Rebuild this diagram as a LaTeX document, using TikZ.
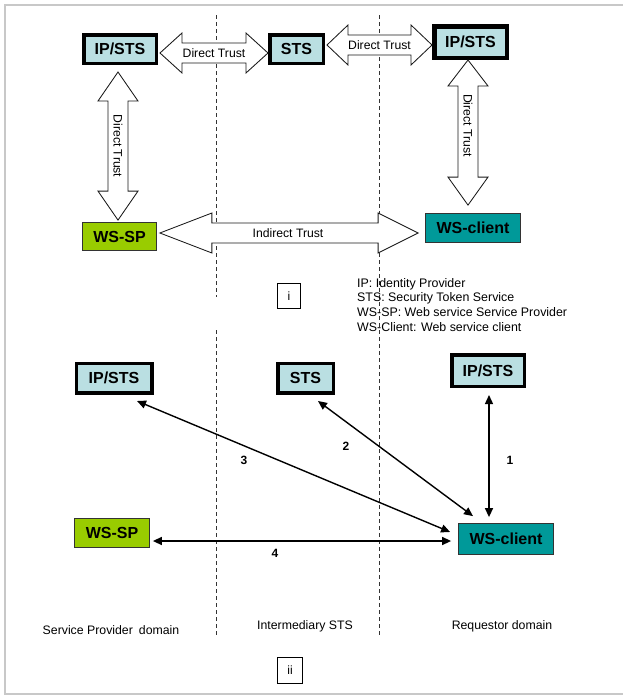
\documentclass[tikz,border=0pt]{standalone}
\usepackage{fontspec}
\setmainfont{Liberation Sans}
\usetikzlibrary{arrows.meta,calc}
\definecolor{stsblue}{RGB}{186,223,226}
\definecolor{spgreen}{RGB}{153,204,0}
\definecolor{clientteal}{RGB}{0,153,153}
\definecolor{framegray}{RGB}{200,200,200}

% horizontal double block arrow: #1 left tip, #2 right tip (x only), #3/#4 head lengths
\newcommand\hblockarrow[4]{%
  \draw[blockarrow] let \p1=(#1), \p2=(#2) in
    (\x1,\y1) -- (\x1+#3,\y1+20pt) -- (\x1+#3,\y1+10pt) -- (\x2-#4,\y1+10pt)
    -- (\x2-#4,\y1+20pt) -- (\x2,\y1) -- (\x2-#4,\y1-20pt) -- (\x2-#4,\y1-10pt)
    -- (\x1+#3,\y1-10pt) -- (\x1+#3,\y1-20pt) -- cycle;}
% vertical double block arrow: #1 top tip, #2 bottom tip (y only), #3/#4 head lengths
\newcommand\vblockarrow[4]{%
  \draw[blockarrow] let \p1=(#1), \p2=(#2) in
    (\x1,\y1) -- (\x1+20pt,\y1-#3) -- (\x1+10pt,\y1-#3) -- (\x1+10pt,\y2+#4)
    -- (\x1+20pt,\y2+#4) -- (\x1,\y2) -- (\x1-20pt,\y2+#4) -- (\x1-10pt,\y2+#4)
    -- (\x1-10pt,\y1-#3) -- (\x1-20pt,\y1-#3) -- cycle;}

\tikzset{
  stsbox/.style={draw=black, fill=stsblue, line width=3.5pt, inner sep=0pt,
    font=\fontsize{16}{19}\selectfont\bfseries},
  spbox/.style={draw=black!80, fill=spgreen, line width=0.8pt, inner sep=0pt,
    font=\fontsize{16}{19}\selectfont\bfseries},
  clientbox/.style={draw=black!80, fill=clientteal, line width=0.8pt, inner sep=0pt,
    font=\fontsize{16}{19}\selectfont\bfseries},
  blockarrow/.style={draw=black!90, fill=white, line width=0.85pt, line join=miter},
  arrowtext/.style={font=\fontsize{12.2}{14}\selectfont, inner sep=0pt},
  plaintext/.style={font=\fontsize{12.3}{14}\selectfont, inner sep=0pt},
  numlabel/.style={font=\fontsize{12}{14}\selectfont\bfseries, inner sep=0pt},
  tagbox/.style={draw=black, line width=0.7pt, font=\fontsize{12}{14}\selectfont,
    minimum width=23pt, minimum height=25pt, inner sep=0pt},
  domainline/.style={draw=black!80, line width=0.9pt, dash pattern=on 4pt off 3pt},
  link/.style={line width=1.4pt, {Triangle[length=9pt,width=8pt]}-{Triangle[length=9pt,width=8pt]}}
}

\begin{document}
\begin{tikzpicture}[x=1pt, y=-1pt]
\useasboundingbox (0,0) rectangle (623,696);
\fill[white] (0,0) rectangle (623,696);
\draw[framegray, line width=2.5pt] (5,5) rectangle (630,694);

% domain separators
\draw[domainline] (216,15) -- (216,297);
\draw[domainline] (216,330) -- (216,636);
\draw[domainline] (379,15) -- (379,636);

% ---------- part i ----------
\node[stsbox, minimum width=72.5pt, minimum height=28.5pt] (ipL) at (120,49) {IP/STS};
\node[stsbox, minimum width=53.5pt, minimum height=28.5pt] (stsT) at (296.5,49) {STS};
\node[stsbox, line width=4.5pt, minimum width=72.5pt, minimum height=31.5pt] (ipR) at (470.5,42) {IP/STS};
\node[spbox, minimum width=74pt, minimum height=28pt] (wsspT) at (119.5,236.5) {WS-SP};
\node[clientbox, minimum width=95pt, minimum height=29pt] (wscT) at (473,228) {WS-client};

\coordinate (a1s) at ($(ipL.east)+(2,4)$);
\coordinate (a1e) at (stsT.west);
\hblockarrow{a1s}{a1e}{22pt}{22pt}
\node[arrowtext] (t1) at ($(a1s)!0.5!(a1s-|a1e)$) {Direct Trust};

\coordinate (a2s) at ($(stsT.east)+(2,-4)$);
\coordinate (a2e) at (ipR.west);
\hblockarrow{a2s}{a2e}{21pt}{21pt}
\node[arrowtext] (t2) at ($(a2s)!0.5!(a2s-|a2e)$) {Direct Trust};

\coordinate (a3s) at ($(ipL.south)+(-2,7)$);
\coordinate (a3e) at ($(wsspT.north)+(0,-2)$);
\vblockarrow{a3s}{a3e}{29pt}{29pt}
\node[arrowtext, rotate=-90] (t3) at ($(a3s)!0.5!(a3s|-a3e)$) {Direct Trust};

\coordinate (a4s) at ($(ipR.south)+(-2.5,0)$);
\coordinate (a4e) at ($(wscT.north)+(0,-8)$);
\vblockarrow{a4s}{a4e}{26pt}{28pt}
\node[arrowtext, rotate=-90] (t4) at ($(a4s)!0.45!(a4s|-a4e)$) {Direct Trust};

\coordinate (a5s) at ($(wsspT.east)+(3,-3.5)$);
\coordinate (a5e) at ($(wscT.west)+(-7,0)$);
\hblockarrow{a5s}{a5e}{52pt}{40pt}
\node[arrowtext] (t5) at (288,233) {Indirect Trust};

\node[tagbox] (tagi) at (289,296) {i};

\node[plaintext, anchor=north west, align=left, font=\fontsize{12.4}{14.7}\selectfont] (legend) at (357,278)
  {IP: Identity Provider\\STS: Security Token Service\\WS-SP: Web service Service Provider\\WS-Client: Web service client};

% ---------- part ii ----------
\node[stsbox, minimum width=75.5pt, minimum height=29.5pt] (ipLB) at (114,378) {IP/STS};
\node[stsbox, minimum width=55.5pt, minimum height=29.5pt] (stsB) at (305.5,378) {STS};
\node[stsbox, minimum width=72.5pt, minimum height=31.5pt] (ipRB) at (488,370.5) {IP/STS};
\node[spbox, minimum width=75pt, minimum height=29pt] (wsspB) at (112,533) {WS-SP};
\node[clientbox, minimum width=95pt, minimum height=31pt] (wscB) at (506,539) {WS-client};

\draw[link] ([shift={(1,7)}]ipRB.south) -- ([shift={(-17,-6)}]wscB.north);
\draw[link] ([shift={(12.5,6.5)}]stsB.south) -- ([shift={(-33,-7)}]wscB.north);
\draw[link] ([shift={(23,6.5)}]ipLB.south) -- ([shift={(-8,-7)}]wscB.west);
\draw[link] ([shift={(3,8)}]wsspB.east) -- ([shift={(-7,2)}]wscB.west);

\node[numlabel] (n1) at (510,460) {1};
\node[numlabel] (n2) at (346,446) {2};
\node[numlabel] (n3) at (244,460) {3};
\node[numlabel] (n4) at (275,553) {4};

\node[plaintext] (dom1) at (111,630) {Service Provider\hspace{6pt}domain};
\node[plaintext] (dom2) at (305,626) {Intermediary STS};
\node[plaintext] (dom3) at (502,626) {Requestor domain};

\node[tagbox, minimum width=25pt, minimum height=26pt] (tagii) at (290,670) {ii};
\end{tikzpicture}
\end{document}
